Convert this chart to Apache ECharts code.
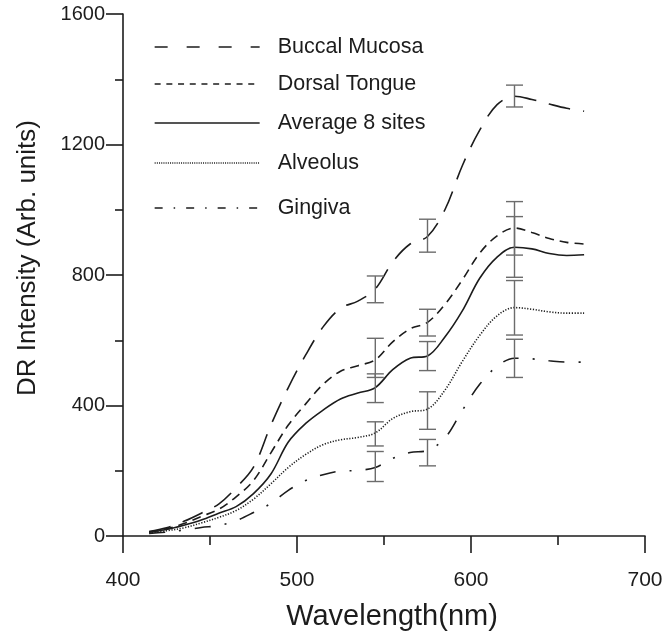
<!DOCTYPE html>
<html><head><meta charset="utf-8">
<script src="https://cdn.jsdelivr.net/npm/echarts@6/dist/echarts.min.js"></script>
<style>html,body{margin:0;padding:0;background:#fff}#c{width:668px;height:637px}</style>
</head><body><div id="c"></div>
<script>
// ---- data ----
const wavelengths  = [415,425,435,445,455,465,475,485,495,505,515,525,535,545,555,565,575,585,595,605,615,625,635,645,655,665];
const buccalMucosa = [14,25,45,70,98,148,211,340,455,555,641,698,720,757,840,895,918,1000,1135,1244,1322,1348,1338,1324,1311,1302];
const dorsalTongue = [13,22,38,60,82,120,170,255,340,405,465,505,522,540,595,635,655,710,785,867,920,944,930,912,900,895];
const average8     = [12,20,33,49,70,90,130,190,288,345,386,420,438,455,510,545,552,610,690,790,855,885,880,866,860,862];
const alveolus     = [10,16,25,40,57,78,113,160,210,250,280,295,302,316,360,381,389,447,535,615,675,700,695,687,683,683];
const gingiva      = [8,12,18,26,32,47,72,100,140,170,188,199,201,210,238,256,262,300,385,465,520,545,543,537,533,533];

const errWavelengths = [545,575,625];
const buccalErrLow  = [715,870,1315],  buccalErrHigh  = [797,971,1382];
const dorsalErrLow  = [486,613,861],   dorsalErrHigh  = [606,695,1025];
const averageErrLow = [409,507,793],   averageErrHigh = [497,596,979];
const alveolusErrLow= [276,327,616],   alveolusErrHigh= [350,442,783];
const gingivaErrLow = [167,215,486],   gingivaErrHigh = [259,296,603];

const seriesNames = ['Buccal Mucosa','Dorsal Tongue','Average 8 sites','Alveolus','Gingiva'];

// ---- styling ----
const FONT = '"Liberation Sans", Arial, Helvetica, sans-serif';
const INK = '#1c1c1c';
const defs = [
  {name:seriesNames[0], data:buccalMucosa, low:buccalErrLow, high:buccalErrHigh, dash:[22,13], legendDash:[13,19], legendY:47},
  {name:seriesNames[1], data:dorsalTongue, low:dorsalErrLow, high:dorsalErrHigh, dash:[9,6], legendDash:[6,5.7], legendY:84},
  {name:seriesNames[2], data:average8, low:averageErrLow, high:averageErrHigh, dash:'solid', legendDash:'solid', legendY:123},
  {name:seriesNames[3], data:alveolus, low:alveolusErrLow, high:alveolusErrHigh, dash:[1.2,1.6], legendDash:[1,1.2], legendY:163},
  {name:seriesNames[4], data:gingiva, low:gingivaErrLow, high:gingivaErrHigh, dash:[16,14,2,14], legendDash:[8,11,1.5,11], legendY:208}
];

const series = [];
defs.forEach(d => {
  series.push({
    name: d.name, type: 'line', smooth: 0.35, symbol: 'none', z: 3,
    color: INK, itemStyle: {color: INK},
    data: wavelengths.map((x,i) => [x, d.data[i]]),
    lineStyle: {color: INK, width: 1.6, type: d.dash}
  });
});
defs.forEach(d => {
  series.push({
    name: 'err ' + d.name, type: 'custom', z: 4,
    data: errWavelengths.map((x,i) => [x, d.low[i], d.high[i]]),
    encode: {x: 0, y: [1,2]},
    renderItem: (params, api) => {
      const x = api.value(0);
      const p1 = api.coord([x, api.value(1)]);
      const p2 = api.coord([x, api.value(2)]);
      const w = 8.5;
      const st = {stroke: '#6c6c6c', lineWidth: 1.4};
      return {type: 'group', children: [
        {type:'line', shape:{x1:p1[0], y1:p1[1], x2:p2[0], y2:p2[1]}, style: st},
        {type:'line', shape:{x1:p1[0]-w, y1:p1[1], x2:p1[0]+w, y2:p1[1]}, style: st},
        {type:'line', shape:{x1:p2[0]-w, y1:p2[1], x2:p2[0]+w, y2:p2[1]}, style: st}
      ]};
    }
  });
});

const legends = defs.map(d => ({
  data: [d.name], left: 154, top: d.legendY - 11, orient: 'vertical',
  padding: 0, itemWidth: 105, itemHeight: 14, selectedMode: false,
  itemStyle: {opacity: 0, color: 'rgba(0,0,0,0)', borderWidth: 0},
  lineStyle: {type: d.legendDash, width: 1.3, color: INK},
  textStyle: {fontFamily: FONT, fontSize: 21.5, color: INK, padding: [0,0,0,13]}
}));

const chart = echarts.init(document.getElementById('c'), null, {renderer: 'canvas'});
chart.setOption({
  animation: false,
  backgroundColor: '#fff',
  grid: {left: 123, right: 23, top: 14, bottom: 101, containLabel: false, outerBoundsMode: 'none'},
  legend: legends,
  xAxis: {
    type: 'value', min: 400, max: 700, interval: 100,
    name: 'Wavelength(nm)', nameLocation: 'middle', nameGap: 66,
    nameTextStyle: {fontFamily: FONT, fontSize: 29, color: INK, padding: [0,0,0,16]},
    axisLine: {show: true, onZero: false, lineStyle: {color: INK, width: 1.6}},
    axisTick: {show: true, inside: false, length: 17, lineStyle: {color: INK, width: 1.6}},
    minorTick: {show: true, splitNumber: 2, length: 9, lineStyle: {color: INK, width: 1.6}},
    splitLine: {show: false}, minorSplitLine: {show: false},
    axisLabel: {fontFamily: FONT, fontSize: 21, color: INK, margin: 34, formatter: v => String(v)}
  },
  yAxis: {
    type: 'value', min: 0, max: 1600, interval: 400,
    name: 'DR Intensity (Arb. units)', nameLocation: 'middle', nameGap: 82,
    nameTextStyle: {fontFamily: FONT, fontSize: 26, color: INK, padding: [0,0,0,34]},
    axisLine: {show: true, onZero: false, lineStyle: {color: INK, width: 1.6}},
    axisTick: {show: true, inside: false, length: 17, lineStyle: {color: INK, width: 1.6}},
    minorTick: {show: true, splitNumber: 2, length: 8, lineStyle: {color: INK, width: 1.6}},
    splitLine: {show: false}, minorSplitLine: {show: false},
    axisLabel: {fontFamily: FONT, fontSize: 20, color: INK, margin: 18, formatter: v => String(v)}
  },
  series: series
});
</script>
</body></html>
